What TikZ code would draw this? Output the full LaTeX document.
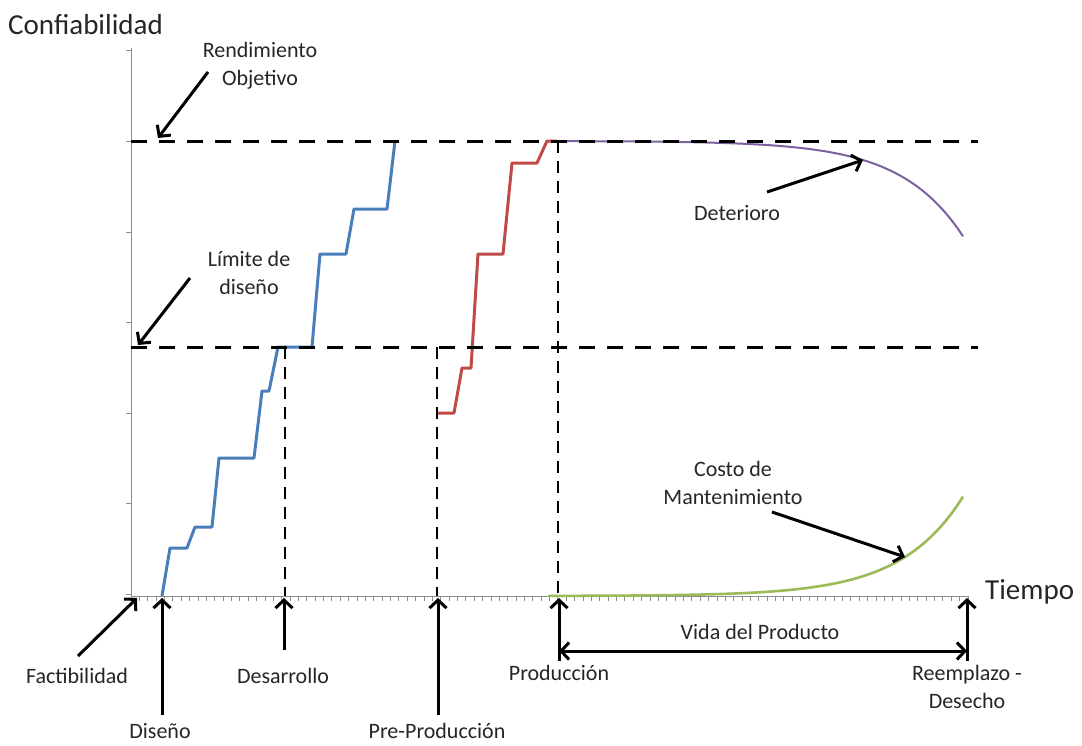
\documentclass[tikz,border=0pt]{standalone}
\usepackage{fontspec}
\setmainfont{Carlito}
\usetikzlibrary{arrows.meta}
\definecolor{cblue}{HTML}{4A7EBB}
\definecolor{cred}{HTML}{BE4B48}
\definecolor{cpurple}{HTML}{7D60A0}
\definecolor{cgreen}{HTML}{9BBB59}
\definecolor{axisgray}{HTML}{8C8C8C}
\definecolor{txt}{HTML}{262626}
\begin{document}
\begin{tikzpicture}[x=1pt,y=-1pt,
  lbl/.style={font=\fontsize{22}{28}\selectfont, text=txt, align=center, inner sep=0pt},
  big/.style={font=\fontsize{29}{34}\selectfont, text=txt, inner sep=0pt},
  arr/.style={line width=3pt, -{Straight Barb[length=8pt,width=17pt]}},
  darr/.style={line width=3pt, {Straight Barb[length=8pt,width=17pt]}-{Straight Barb[length=8pt,width=17pt]}},
  refline/.style={line width=3pt, dash pattern=on 16pt off 12pt},
  vline/.style={line width=2.8pt, dash pattern=on 12pt off 8pt},
  curve/.style={line width=3pt, line join=round},
  axisline/.style={axisgray, line width=1pt}]
\useasboundingbox (0,0) rectangle (1082,745);
% axes
\coordinate (O) at (131,596);
\coordinate (ytop) at (131,48);
\coordinate (xend) at (968,596);
\draw[axisline] (ytop) -- (O) -- (xend);
\foreach \y in {50,141,232,322,413,503,594} \draw[axisline] (126,\y) -- (131,\y);
\foreach \i in {0,...,100} \draw[axisgray, line width=0.8pt] ({131+8.37*\i},596) -- ({131+8.37*\i},601);
% curves
\draw[curve, cblue] (162,596) -- (170,548) -- (187,548) -- (195,527) -- (212,527) -- (219,458) -- (254,458) -- (262,391) -- (269,391) -- (278,347) -- (312,347) -- (320,254) -- (346,254) -- (354,209) -- (387,209) -- (395,141);
\draw[curve, cred] (437,413) -- (454,413) -- (462,368) -- (471,368) -- (478,254) -- (503,254) -- (512,163) -- (537,163) -- (547,141) -- (557,141);
\draw[cpurple, line width=2pt] plot[domain=557:963, samples=80, smooth] (\x, {141+19*exp((\x-863)/62)});
\draw[cgreen, line width=2.6pt] plot[domain=548:963, samples=80, smooth] (\x, {596-39*exp((\x-905)/62)});
% reference lines
\draw[refline] (131,141) -- (978,141);
\draw[refline] (131,347) -- (978,347);
\draw[vline] (285,347) -- (285,596);
\draw[vline] (437,347) -- (437,596);
\draw[vline] (558,141) -- (558,596);
% labels
\node[big, anchor=west] (conf) at (8,25) {Confiabilidad};
\node[big, anchor=west] (tiempo) at (985,592) {Tiempo};
\node[lbl] (rend) at (260,66) {Rendimiento\\Objetivo};
\node[lbl] (lim) at (249,273) {Límite de\\diseño};
\node[lbl] (det) at (737,213) {Deterioro};
\node[lbl] (costo) at (733,483) {Costo de\\Mantenimiento};
\node[lbl] (fact) at (77,676) {Factibilidad};
\node[lbl] (dis) at (160,731) {Diseño};
\node[lbl] (desa) at (283,676) {Desarrollo};
\node[lbl] (pre) at (437,731) {Pre-Producción};
\node[lbl] (prod) at (559,673) {Producción};
\node[lbl] (vida) at (760,632) {Vida del Producto};
\node[lbl] (reem) at (967,687) {Reemplazo -\\Desecho};
% arrow end points
\coordinate (rendT) at (208,72);   \coordinate (rendH) at (158,138);
\coordinate (limT) at (190,278);   \coordinate (limH) at (138,345);
\coordinate (detT) at (767,192);   \coordinate (detH) at (863,160);
\coordinate (cosT) at (772,512);   \coordinate (cosH) at (905,557);
\coordinate (facT) at (78,656);    \coordinate (facH) at (137,598);
\coordinate (disT) at (162,715);   \coordinate (disH) at (162,598);
\coordinate (desT) at (284,650);   \coordinate (desH) at (284,598);
\coordinate (preT) at (438,715);   \coordinate (preH) at (438,598);
\coordinate (proT) at (559,661);   \coordinate (proH) at (559,598);
\coordinate (reeT) at (967,661);   \coordinate (reeH) at (967,598);
\coordinate (vidaL) at (559,651);  \coordinate (vidaR) at (967,651);
\draw[arr] (rendT) -- (rendH);
\draw[arr] (limT) -- (limH);
\draw[arr] (detT) -- (detH);
\draw[arr] (cosT) -- (cosH);
\draw[arr] (facT) -- (facH);
\draw[arr] (disT) -- (disH);
\draw[arr] (desT) -- (desH);
\draw[arr] (preT) -- (preH);
\draw[arr] (proT) -- (proH);
\draw[arr] (reeT) -- (reeH);
\draw[darr] (vidaL) -- (vidaR);
\end{tikzpicture}
\end{document}
